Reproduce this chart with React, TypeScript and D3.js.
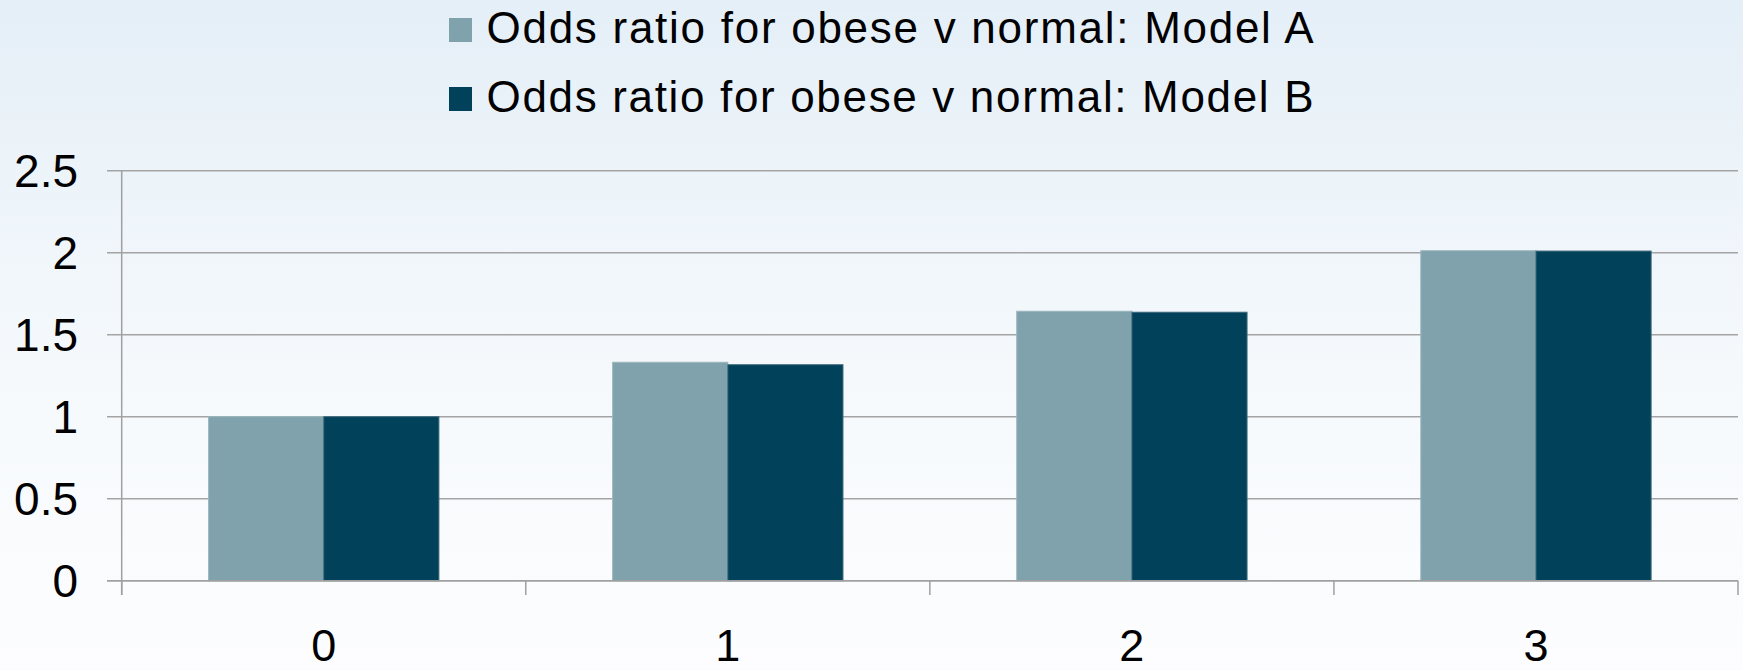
import React from "react";
import * as d3 from "d3";

const categories = ["0", "1", "2", "3"];
const seriesNames = [
  "Odds ratio for obese v normal: Model A",
  "Odds ratio for obese v normal: Model B",
];
const modelA = [1.0, 1.332, 1.643, 2.012];
const modelB = [1.0, 1.317, 1.637, 2.01];
const yTicks = [0, 0.5, 1, 1.5, 2, 2.5];
const colors = ["#80a2ac", "#014159"];

const W = 1743;
const H = 671;
const left = 121.7;
const right = 1738;
const top = 170.7;
const bottom = 580.7;
const FONT = "'Liberation Sans', Arial, sans-serif";

export default function App() {
  const x = d3
    .scaleBand<string>()
    .domain(categories)
    .range([left, right])
    .paddingInner(0.43)
    .paddingOuter(0.215);
  const xs = d3
    .scaleBand<number>()
    .domain([0, 1])
    .range([0, x.bandwidth()]);
  const y = d3.scaleLinear().domain([0, 2.5]).range([bottom, top]);
  const series = [modelA, modelB];
  const step = x.step();
  const boundaries = d3.range(categories.length + 1).map((i) => left + i * step);

  return (
    <svg
      width={W}
      height={H}
      style={{ position: "absolute", left: 0, top: 0, display: "block" }}
      fontFamily={FONT}
    >
      <defs>
        <linearGradient id="bg" x1="0" y1="0" x2="0" y2="1">
          <stop offset="0" stopColor="#e5eff7" />
          <stop offset="0.55" stopColor="#f5f9fc" />
          <stop offset="1" stopColor="#fdfdff" />
        </linearGradient>
      </defs>
      <rect x={0} y={0} width={W} height={H} fill="url(#bg)" />

      {/* legend */}
      {seriesNames.map((name, i) => {
        const baseY = 43 + i * 69;
        return (
          <g key={name}>
            <rect x={449} y={baseY - 25} width={23} height={24} fill={colors[i]} />
            <text
              x={486.5}
              y={baseY}
              fontSize={44}
              fill="#000"
              textLength={827}
              lengthAdjust="spacing"
            >
              {name}
            </text>
          </g>
        );
      })}

      {/* gridlines */}
      {yTicks.map((t) => (
        <line
          key={t}
          x1={107}
          x2={right}
          y1={y(t)}
          y2={y(t)}
          stroke="#a4a4a4"
          strokeWidth={1.5}
        />
      ))}

      {/* y labels */}
      {yTicks.map((t) => (
        <text
          key={"l" + t}
          x={78}
          y={y(t)}
          dy="0.36em"
          textAnchor="end"
          fontSize={46}
          fill="#000"
        >
          {String(t)}
        </text>
      ))}

      {/* bars */}
      {categories.map((c, ci) =>
        series.map((vals, si) => (
          <rect
            key={c + si}
            x={(x(c) as number) + (xs(si) as number)}
            y={y(vals[ci])}
            width={xs.bandwidth()}
            height={y(0) - y(vals[ci])}
            fill={colors[si]}
            stroke={si === 0 ? "#9bb6be" : "#3d6a7c"}
            strokeWidth={1}
          />
        ))
      )}

      {/* axes */}
      <line x1={left} x2={left} y1={top} y2={595} stroke="#a0a0a0" strokeWidth={1.5} />
      <line x1={107} x2={right} y1={bottom} y2={bottom} stroke="#a0a0a0" strokeWidth={1.5} />
      {boundaries.map((bx, i) => (
        <line key={"t" + i} x1={bx} x2={bx} y1={bottom} y2={595} stroke="#a0a0a0" strokeWidth={1.5} />
      ))}

      {/* x labels */}
      {categories.map((c) => (
        <text
          key={"x" + c}
          x={(x(c) as number) + x.bandwidth() / 2}
          y={661}
          textAnchor="middle"
          fontSize={45}
          fill="#000"
        >
          {c}
        </text>
      ))}
    </svg>
  );
}
